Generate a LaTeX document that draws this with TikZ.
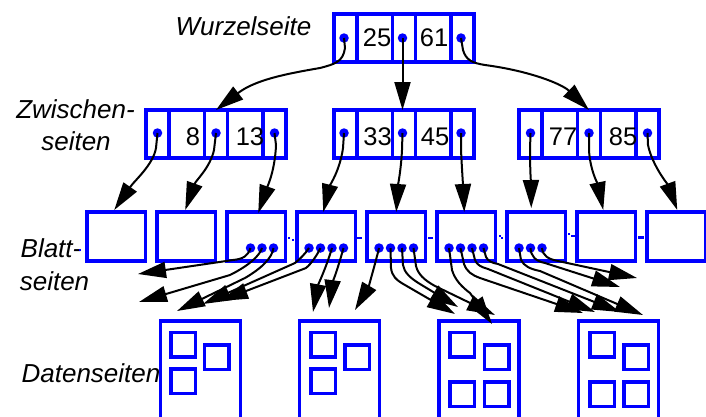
\documentclass[tikz,border=0pt]{standalone}
\usepackage{fontspec}
\setmainfont{Liberation Sans}
\usetikzlibrary{arrows.meta,calc}
\begin{document}
\begin{tikzpicture}[x=1pt,y=-1pt,
  cellb/.style={draw=blue, line width=3.5pt, inner sep=0pt, outer sep=0pt, minimum height=48pt},
  pcell/.style={cellb, minimum width=23pt},
  kcell/.style={cellb, minimum width=35.5pt},
  ptr/.style={circle, fill=blue, inner sep=0pt, minimum size=9.5pt},
  leafbox/.style={draw=blue, line width=3.5pt, inner sep=0pt, outer sep=0pt, minimum width=58.5pt, minimum height=49pt},
  pagebox/.style={draw=blue, line width=3.5pt, inner sep=0pt, outer sep=0pt, minimum width=80pt, minimum height=120pt},
  recbox/.style={draw=blue, line width=3.5pt, inner sep=0pt, outer sep=0pt, minimum size=24.5pt},
  num/.style={font=\fontsize{25.5}{30}\selectfont, inner sep=0pt, anchor=base},
  lab/.style={font=\fontsize{26}{31}\selectfont\itshape, inner sep=0pt, anchor=base},
  arr/.style={draw=black, line width=2pt, -{Triangle[length=28pt,width=16pt]}},
  link/.style={draw=blue, line width=2.5pt},
]
\useasboundingbox (0,0) rectangle (706,416);

% ---------- labels
\node[lab] (wz) at (243.5,35.7) {Wurzelseite};
\node[lab] (zw1) at (75.5,118) {Zwischen-};
\node[lab] (zw2) at (76,150) {seiten};
\node[lab] (bl1) at (51,257) {Blatt-};
\node[lab] (bl2) at (54.5,290) {seiten};
\node[lab] (ds) at (91,382.7) {Datenseiten};

% ---------- index nodes (root and intermediate)
\newcommand\mkinode[3]{% prefix, left x, centre y
  \node[pcell] (#1p1) at (#2+11.5,#3) {};
  \node[kcell] (#1k1) at (#2+40.75,#3) {};
  \node[pcell] (#1p2) at (#2+70,#3) {};
  \node[kcell] (#1k2) at (#2+99.25,#3) {};
  \node[pcell] (#1p3) at (#2+128.5,#3) {};
}
\mkinode{r}{334}{38}
\mkinode{ma}{146}{134}
\mkinode{mb}{334}{134}
\mkinode{mc}{519}{134}

\node[num] (t25) at (377,46.5) {25};
\node[num] (t61) at (434,46.5) {61};
\node[num] (t8)  at (193,145) {8};
\node[num] (t13) at (250,145) {13};
\node[num] (t33) at (377.5,145) {33};
\node[num] (t45) at (435,145) {45};
\node[num] (t77) at (563,145) {77};
\node[num] (t85) at (623,145) {85};

\node[ptr] (r1) at ($(rp1.center)+(-1.5,0)$) {};
\node[ptr] (r2) at ($(rp2.center)+(-1.5,0)$) {};
\node[ptr] (r3) at ($(rp3.center)+(-1.5,0)$) {};
\node[ptr] (ma1) at ($(map1.center)+(0,-1)$) {};
\node[ptr] (ma2) at ($(map2.center)+(0,-1)$) {};
\node[ptr] (ma3) at ($(map3.center)+(0,-1)$) {};
\node[ptr] (mb1) at ($(mbp1.center)+(-1.5,-1)$) {};
\node[ptr] (mb2) at ($(mbp2.center)+(-1.5,-1)$) {};
\node[ptr] (mb3) at ($(mbp3.center)+(-1.5,-1)$) {};
\node[ptr] (mc1) at ($(mcp1.center)+(0,-1)$) {};
\node[ptr] (mc2) at ($(mcp2.center)+(0,-1)$) {};
\node[ptr] (mc3) at ($(mcp3.center)+(0,-1)$) {};

% ---------- leaf pages
\foreach \i in {1,...,9}
  \node[leafbox] (l\i) at ({116.25+70*(\i-1)},236.5) {};

\node[ptr] (l3a) at ($(l3.center)+(-5.75,11.5)$) {};
\node[ptr] (l3b) at ($(l3.center)+(5.75,11.5)$) {};
\node[ptr] (l3c) at ($(l3.center)+(17.25,11.5)$) {};
\foreach \j in {4,5,6}{
  \node[ptr] (l\j a) at ($(l\j.center)+(-17.25,11.5)$) {};
  \node[ptr] (l\j b) at ($(l\j.center)+(-5.75,11.5)$) {};
  \node[ptr] (l\j c) at ($(l\j.center)+(5.75,11.5)$) {};
  \node[ptr] (l\j d) at ($(l\j.center)+(17.25,11.5)$) {};
}
\node[ptr] (l7a) at ($(l7.center)+(-17.25,11.5)$) {};
\node[ptr] (l7b) at ($(l7.center)+(-5.75,11.5)$) {};
\node[ptr] (l7c) at ($(l7.center)+(5.75,11.5)$) {};

% small link marks between leaves
\draw[link] (79,250) -- (81,250);
\draw[link] (288,238) -- (290,238) (292,240) -- (294,240);
\draw[link] (356.5,238) -- (361.5,238);
\draw[link] (428,238) -- (432.5,238);
\draw[link] (499,236) -- (501,236) (501,238) -- (503,238);
\draw[link] (568,234) -- (570,234) (571,236) -- (575,236);
\draw[link] (638,237.5) -- (644,237.5);

% ---------- data pages
\node[pagebox] (d1) at (200.5,381) {};
\node[pagebox] (d2) at (339.5,381) {};
\node[pagebox] (d3) at (479,381) {};
\node[pagebox] (d4) at (618.5,381) {};

\node[recbox] (d1a) at (183,344.5) {};
\node[recbox] (d1b) at (216.5,357) {};
\node[recbox] (d1c) at (183,381) {};
\node[recbox] (d2a) at (323,344.5) {};
\node[recbox] (d2b) at (357,357) {};
\node[recbox] (d2c) at (323,381) {};
\node[recbox] (d3a) at (462,344.5) {};
\node[recbox] (d3b) at (496.5,357) {};
\node[recbox] (d3c) at (462,394) {};
\node[recbox] (d3d) at (496.5,394) {};
\node[recbox] (d4a) at (602,344.5) {};
\node[recbox] (d4b) at (636,357) {};
\node[recbox] (d4c) at (602,394) {};
\node[recbox] (d4d) at (636,394) {};

% ---------- root -> intermediate
\draw[arr] (r1.center) -- (345,48) .. controls (343,62) and (335,64) .. (320,68)
  .. controls (285,74) and (255,80) .. (map2.north);
\draw[arr] (r2.center) -- (r2 |- mbp2.north);
\draw[arr] (r3.center) -- (463,50) .. controls (466,60) and (472,63) .. (485,65)
  .. controls (530,71) and (562,84) .. (mcp2.north);

% ---------- intermediate -> leaves
\draw[arr] (ma1.center) -- (156,148) .. controls (153,165) and (135,180) .. ($(l1.north)+(-2,-2)$);
\draw[arr] (ma2.center) -- (214,150) .. controls (210,168) and (196,180) .. ($(l2.north)+(-1,-2)$);
\draw[arr] (ma3.center) -- (276,145) .. controls (275,170) and (268,185) .. ($(l3.north)+(2,1)$);
\draw[arr] (mb1.center) -- (343,148) .. controls (340,170) and (330,185) .. ($(l4.north)+(-3,0)$);
\draw[arr] (mb2.center) -- (402,150) .. controls (401,170) and (398,185) .. (l5.north);
\draw[arr] (mb3.center) -- (461,150) .. controls (462,170) and (463,185) .. ($(l6.north)+(-2,0)$);
\draw[arr] (mc1.center) -- (530,150) .. controls (530,170) and (531,185) .. ($(l7.north)+(-5,-4)$);
\draw[arr] (mc2.center) -- (589,150) .. controls (590,170) and (598,185) .. ($(l8.north)+(-3,-2)$);
\draw[arr] (mc3.center) -- (648,145) .. controls (652,165) and (668,185) .. ($(l9.north)+(1,-2)$);

% ---------- leaves -> data pages (free tips)
\coordinate (e1) at (138,274);
\coordinate (e2) at (139,302);
\coordinate (e3) at (177,311);
\coordinate (e4) at (203,304);
\coordinate (e5) at (220,301);
\coordinate (e6) at (313,312);
\coordinate (e7) at (329,308);
\coordinate (e8) at (355,310);
\coordinate (e9) at (455,314);
\coordinate (e10) at (458,307);
\coordinate (e11) at (495,315);
\coordinate (e12) at (492,324);
\coordinate (e13) at (583,313);
\coordinate (e14) at (595,312);
\coordinate (e15) at (620,312);
\coordinate (e16) at (643,315);
\coordinate (e17) at (620,287);
\coordinate (e18) at (637,278);

\draw[arr] (l3a.center) .. controls (248,256) and (243,259) .. (233,260) -- (e1);
\draw[arr] (l3b.center) .. controls (260,255) and (250,265) .. (230,275) -- (e2);
\draw[arr] (l3c.center) .. controls (272,258) and (262,268) .. (245,278) -- (e3);
\draw[arr] (l4a.center) .. controls (305,254) and (300,259) .. (295,263) -- (e4);
\draw[arr] (l4b.center) .. controls (317,255) and (312,263) .. (306,268) -- (e5);
\draw[arr] (l4c.center) .. controls (326,268) and (318,285) .. (e6);
\draw[arr] (l4d.center) .. controls (338,268) and (332,285) .. (e7);
\draw[arr] (l5a.center) .. controls (375,265) and (368,288) .. (e8);
\draw[arr] (l5b.center) -- (391,268) .. controls (392,276) and (396,280) .. (405,285) -- (e9);
\draw[arr] (l5c.center) -- (403,265) .. controls (404,272) and (410,278) .. (420,284) -- (e10);
\draw[arr] (l5d.center) -- (416,266) .. controls (418,274) and (424,280) .. (435,286) -- (e11);
\draw[arr] (l6a.center) -- (452,270) .. controls (455,280) and (462,287) .. (470,293) -- (e12);
\draw[arr] (l6b.center) -- (464,264) .. controls (467,272) and (472,275) .. (480,278) -- (e13);
\draw[arr] (l6c.center) -- (475,260) .. controls (477,265) and (481,267) .. (488,269) -- (e14);
\draw[arr] (l6d.center) -- (486,257) .. controls (488,261) and (492,263) .. (498,264) -- (e15);
\draw[arr] (l7a.center) -- (521,260) .. controls (524,266) and (530,269) .. (540,271) -- (e16);
\draw[arr] (l7b.center) .. controls (531,256) and (535,261) .. (545,263) -- (e17);
\draw[arr] (l7c.center) .. controls (543,256) and (548,259) .. (558,261) -- (e18);
\end{tikzpicture}
\end{document}
